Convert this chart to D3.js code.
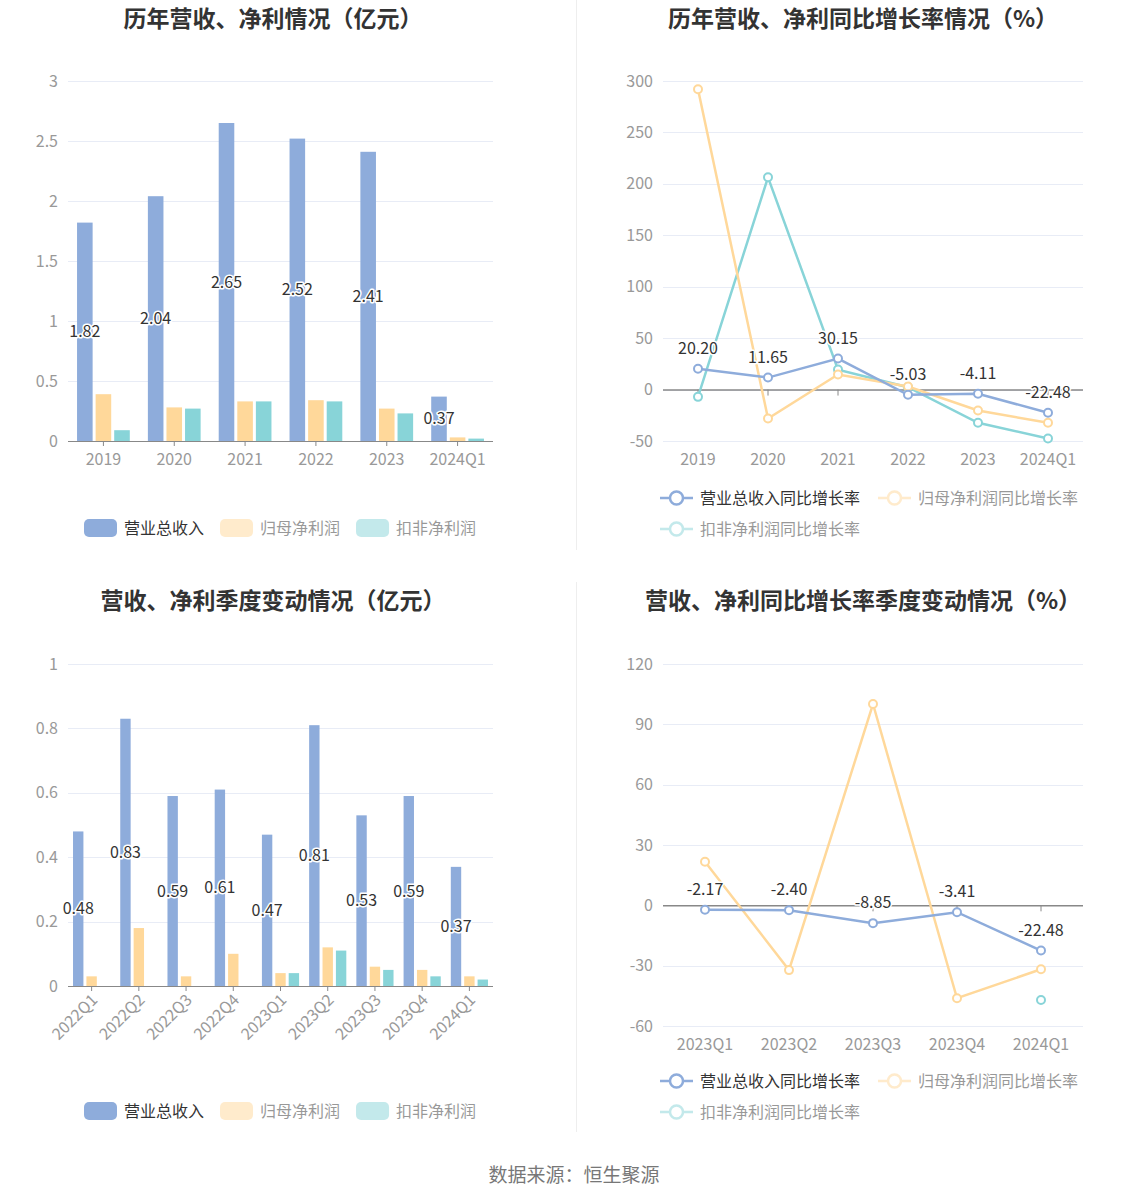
<!DOCTYPE html>
<html>
<head>
<meta charset="utf-8">
<script src="https://cdn.jsdelivr.net/npm/d3@7"></script>
<style>
    body { margin: 0; background: #fff; }
    svg { display: block; font-family: "Microsoft YaHei", "Noto Sans CJK SC", sans-serif; }
    .halo { paint-order: stroke; stroke: #fff; stroke-width: 3px; stroke-linejoin: round; }
</style>
</head>
<body>
<svg id="chart" width="1148" height="1202"></svg>
<script>
// --- data ---
var seriesNames = ["营业总收入", "归母净利润", "扣非净利润"];
var growthNames = ["营业总收入同比增长率", "归母净利润同比增长率", "扣非净利润同比增长率"];
var colors = ["#8eacdb", "#ffd89a", "#88d4d8"];

var yearCats = ["2019", "2020", "2021", "2022", "2023", "2024Q1"];
var yearRevenue = [1.82, 2.04, 2.65, 2.52, 2.41, 0.37];
var yearNetProfit = [0.39, 0.28, 0.33, 0.34, 0.27, 0.03];
var yearDeductProfit = [0.09, 0.27, 0.33, 0.33, 0.23, 0.02];

var yearRevenueGrowth = [20.20, 11.65, 30.15, -5.03, -4.11, -22.48];
var yearNetGrowth = [292, -28.1, 14.6, 3, -20.4, -32.3];
var yearDeductGrowth = [-7.1, 206.4, 19.4, 2.3, -32.3, -47.5];

var quarterCats = ["2022Q1", "2022Q2", "2022Q3", "2022Q4", "2023Q1", "2023Q2", "2023Q3", "2023Q4", "2024Q1"];
var quarterRevenue = [0.48, 0.83, 0.59, 0.61, 0.47, 0.81, 0.53, 0.59, 0.37];
var quarterNetProfit = [0.03, 0.18, 0.03, 0.10, 0.04, 0.12, 0.06, 0.05, 0.03];
var quarterDeductProfit = [null, null, null, null, 0.04, 0.11, 0.05, 0.03, 0.02];

var growthCats = ["2023Q1", "2023Q2", "2023Q3", "2023Q4", "2024Q1"];
var quarterRevenueGrowth = [-2.17, -2.40, -8.85, -3.41, -22.48];
var quarterNetGrowth = [21.7, -32.2, 100.1, -46.2, -31.8];
var quarterDeductGrowth = [null, null, null, null, -47.1];

var svg = d3.select("#chart");

function title(text, cx, y) {
    svg.append("text").attr("x", cx).attr("y", y)
        .attr("text-anchor", "middle")
        .attr("font-size", 23).attr("font-weight", "bold").attr("fill", "#333")
        .text(text);
}

function yAxisGrid(g, y, ticks, left, right) {
    g.append("g").selectAll("line").data(ticks).join("line")
        .attr("x1", left).attr("x2", right)
        .attr("y1", function(d) { return Math.round(y(d)) + 0.5; })
        .attr("y2", function(d) { return Math.round(y(d)) + 0.5; })
        .attr("stroke", "#e8ecf6").attr("stroke-width", 1);
    g.append("g").selectAll("text").data(ticks).join("text")
        .attr("x", left - 10).attr("y", function(d) { return y(d); })
        .attr("dy", "0.35em").attr("text-anchor", "end")
        .attr("font-size", 16).attr("fill", "#999")
        .text(function(d) { return d; });
}

function barLegend(y) {
    var x = 84;
    seriesNames.forEach(function(name, i) {
        var item = svg.append("g").attr("opacity", i == 0 ? 1 : 0.5);
        item.append("rect").attr("x", x).attr("y", y - 9).attr("width", 33).attr("height", 18)
            .attr("rx", 5).attr("fill", colors[i]);
        var t = item.append("text").attr("x", x + 40).attr("y", y).attr("dy", "0.35em")
            .attr("font-size", 16).attr("fill", "#333").text(name);
        x += 40 + t.node().getComputedTextLength() + 16;
    });
}

function lineLegend(y) {
    var pos = [[660, y], [878, y], [660, y + 31]];
    growthNames.forEach(function(name, i) {
        var item = svg.append("g").attr("opacity", i == 0 ? 1 : 0.5);
        var x = pos[i][0], yy = pos[i][1];
        item.append("line").attr("x1", x).attr("x2", x + 33).attr("y1", yy).attr("y2", yy)
            .attr("stroke", colors[i]).attr("stroke-width", 2.5);
        item.append("circle").attr("cx", x + 16.5).attr("cy", yy).attr("r", 6.5)
            .attr("fill", "#fff").attr("stroke", colors[i]).attr("stroke-width", 2.5);
        item.append("text").attr("x", x + 40).attr("y", yy).attr("dy", "0.35em")
            .attr("font-size", 16).attr("fill", "#333").text(name);
    });
}

function barChart(opt) {
    var g = svg.append("g");
    var x = d3.scaleBand().domain(opt.cats).range([opt.left, opt.right]);
    var y = d3.scaleLinear().domain(opt.domain).range([opt.bottom, opt.top]);
    yAxisGrid(g, y, opt.ticks, opt.left, opt.right);

    var bw = x.bandwidth() * 0.22, gap = 3;
    var series = [opt.revenue, opt.net, opt.deduct];
    series.forEach(function(vals, s) {
        g.append("g").selectAll("rect").data(opt.cats).join("rect")
            .filter(function(d, i) { return vals[i] != null; })
            .attr("x", function(d) { return x(d) + x.bandwidth() / 2 - 1.5 * bw - gap + s * (bw + gap); })
            .attr("y", function(d) { return y(vals[opt.cats.indexOf(d)]); })
            .attr("width", bw)
            .attr("height", function(d) { return y(0) - y(vals[opt.cats.indexOf(d)]); })
            .attr("fill", colors[s]);
    });

    // axis
    g.append("line").attr("x1", opt.left).attr("x2", opt.right)
        .attr("y1", y(0) + 0.5).attr("y2", y(0) + 0.5).attr("stroke", "#888");
    g.append("g").selectAll("line").data(opt.cats).join("line")
        .attr("x1", function(d) { return x(d) + x.bandwidth() / 2; })
        .attr("x2", function(d) { return x(d) + x.bandwidth() / 2; })
        .attr("y1", y(0)).attr("y2", y(0) + 5).attr("stroke", "#888");
    var lab = g.append("g").selectAll("text").data(opt.cats).join("text")
        .attr("font-size", 16).attr("fill", "#999").text(function(d) { return d; });
    if (opt.rotate) {
        lab.attr("text-anchor", "end").attr("dy", "0.35em")
            .attr("transform", function(d) { return "translate(" + (x(d) + x.bandwidth() / 2 + 3) + "," + (y(0) + 11) + ") rotate(-45)"; });
    } else {
        lab.attr("text-anchor", "middle").attr("dy", "0.35em")
            .attr("x", function(d) { return x(d) + x.bandwidth() / 2; })
            .attr("y", y(0) + 18);
    }

    // revenue labels, centred in bar
    g.append("g").selectAll("text").data(opt.cats).join("text")
        .attr("class", "halo")
        .attr("x", function(d) { return x(d) + x.bandwidth() / 2 - bw - gap; })
        .attr("y", function(d, i) { return (y(opt.revenue[i]) + y(0)) / 2; })
        .attr("dy", "0.35em").attr("text-anchor", "middle")
        .attr("font-size", 16).attr("fill", "#333")
        .text(function(d, i) { return opt.revenue[i].toFixed(2); });
}

function lineChart(opt) {
    var g = svg.append("g");
    var x = d3.scaleBand().domain(opt.cats).range([opt.left, opt.right]);
    var y = d3.scaleLinear().domain(opt.domain).range([opt.bottom, opt.top]);
    var cx = function(d) { return x(d) + x.bandwidth() / 2; };
    yAxisGrid(g, y, opt.ticks, opt.left, opt.right);

    g.append("line").attr("x1", opt.left).attr("x2", opt.right)
        .attr("y1", y(0) + 0.5).attr("y2", y(0) + 0.5).attr("stroke", "#888").attr("stroke-width", 1.5);
    g.append("g").selectAll("line").data(opt.cats).join("line")
        .attr("x1", cx).attr("x2", cx)
        .attr("y1", y(0)).attr("y2", y(0) + 6).attr("stroke", "#888");
    g.append("g").selectAll("text").data(opt.cats).join("text")
        .attr("x", cx).attr("y", opt.bottom + 18).attr("dy", "0.35em")
        .attr("text-anchor", "middle").attr("font-size", 16).attr("fill", "#999")
        .text(function(d) { return d; });

    var series = [opt.revenue, opt.net, opt.deduct];
    var order = [2, 1, 0];
    order.forEach(function(s) {
        var vals = series[s];
        var pts = opt.cats.map(function(c, i) { return { c: c, v: vals[i] }; });
        var line = d3.line()
            .defined(function(p) { return p.v != null; })
            .x(function(p) { return cx(p.c); })
            .y(function(p) { return y(p.v); });
        g.append("path").datum(pts).attr("d", line)
            .attr("fill", "none").attr("stroke", colors[s]).attr("stroke-width", 2.5);
        g.append("g").selectAll("circle").data(pts.filter(function(p) { return p.v != null; })).join("circle")
            .attr("cx", function(p) { return cx(p.c); })
            .attr("cy", function(p) { return y(p.v); })
            .attr("r", 4).attr("fill", "#fff")
            .attr("stroke", colors[s]).attr("stroke-width", 2);
    });

    g.append("g").selectAll("text").data(opt.cats).join("text")
        .attr("class", "halo")
        .attr("x", cx)
        .attr("y", function(d, i) { return y(opt.revenue[i]) - 15; })
        .attr("text-anchor", "middle").attr("font-size", 16).attr("fill", "#333")
        .text(function(d, i) { return opt.revenue[i].toFixed(2); });
}

// panels
title("历年营收、净利情况（亿元）", 273, 27);
title("历年营收、净利同比增长率情况（%）", 863, 27);
title("营收、净利季度变动情况（亿元）", 273, 609);
title("营收、净利同比增长率季度变动情况（%）", 863, 609);

barChart({
    cats: yearCats, revenue: yearRevenue, net: yearNetProfit, deduct: yearDeductProfit,
    left: 68, right: 493, top: 81, bottom: 441,
    domain: [0, 3], ticks: [0, 0.5, 1, 1.5, 2, 2.5, 3], rotate: false
});
lineChart({
    cats: yearCats, revenue: yearRevenueGrowth, net: yearNetGrowth, deduct: yearDeductGrowth,
    left: 663, right: 1083, top: 81, bottom: 441,
    domain: [-50, 300], ticks: [-50, 0, 50, 100, 150, 200, 250, 300]
});
barChart({
    cats: quarterCats, revenue: quarterRevenue, net: quarterNetProfit, deduct: quarterDeductProfit,
    left: 68, right: 493, top: 664, bottom: 986,
    domain: [0, 1], ticks: [0, 0.2, 0.4, 0.6, 0.8, 1], rotate: true
});
lineChart({
    cats: growthCats, revenue: quarterRevenueGrowth, net: quarterNetGrowth, deduct: quarterDeductGrowth,
    left: 663, right: 1083, top: 664, bottom: 1026,
    domain: [-60, 120], ticks: [-60, -30, 0, 30, 60, 90, 120]
});

barLegend(528);
barLegend(1111);
lineLegend(498);
lineLegend(1081);

// dividers + footer
svg.append("line").attr("x1", 576.5).attr("x2", 576.5).attr("y1", 0).attr("y2", 550).attr("stroke", "#eee");
svg.append("line").attr("x1", 576.5).attr("x2", 576.5).attr("y1", 582).attr("y2", 1132).attr("stroke", "#eee");
svg.append("text").attr("x", 574).attr("y", 1175).attr("dy", "0.35em")
    .attr("text-anchor", "middle").attr("font-size", 19).attr("fill", "#777")
    .text("数据来源：恒生聚源");
</script>
</body>
</html>
